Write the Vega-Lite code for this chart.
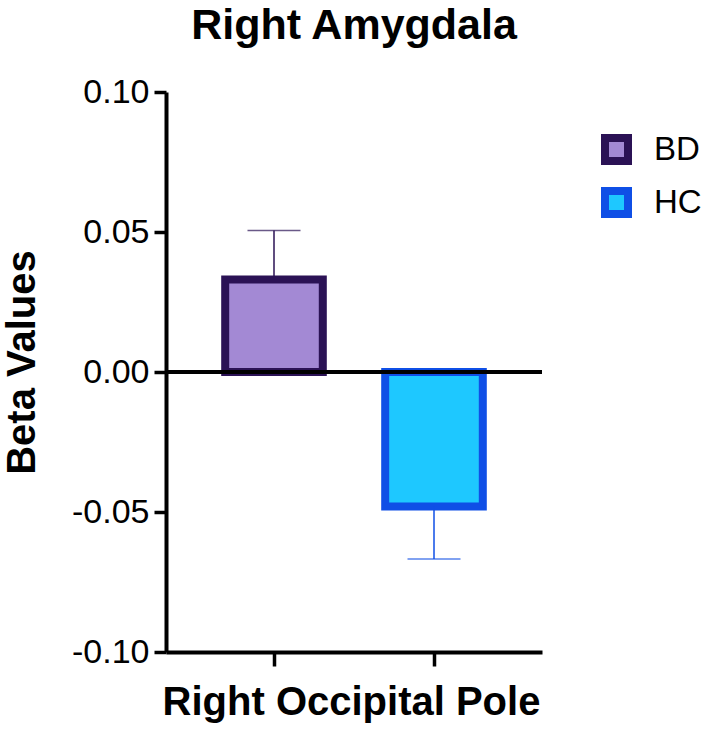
{
  "$schema": "https://vega.github.io/schema/vega-lite/v6.json",
  "autosize": "none",
  "width": 376,
  "height": 560,
  "padding": {"left": 166, "top": 92, "right": 166, "bottom": 80},
  "background": "white",
  "config": {
    "view": {"stroke": null},
    "font": "Liberation Sans"
  },
  "title": {
    "text": "Right Amygdala",
    "font": "Liberation Sans",
    "fontSize": 43,
    "fontWeight": "bold",
    "color": "black",
    "anchor": "middle",
    "offset": 27
  },
  "data": {
    "values": [
      {"group": "BD", "mean": 0.033, "err": 0.0505},
      {"group": "HC", "mean": -0.048, "err": -0.0668}
    ]
  },
  "layer": [
    {
      "mark": {"type": "bar", "strokeWidth": 8, "strokeJoin": "miter"},
      "encoding": {
        "x": {
          "field": "group",
          "type": "nominal",
          "scale": {"paddingInner": 0.39, "paddingOuter": 0.37},
          "axis": {
            "labels": false,
            "ticks": true,
            "tickSize": 14,
            "tickWidth": 3.5,
            "tickColor": "black",
            "domainColor": "black",
            "domainWidth": 4,
            "title": "Right Occipital Pole",
            "titleFont": "Liberation Sans",
            "titleFontSize": 40,
            "titleFontWeight": "bold",
            "titleColor": "black",
            "titleX": 185,
            "titleY": 50,
            "titleAlign": "center",
            "titleBaseline": "middle"
          }
        },
        "y": {
          "field": "mean",
          "type": "quantitative",
          "scale": {"domain": [-0.1, 0.1], "nice": false, "zero": false},
          "axis": {
            "values": [-0.1, -0.05, 0, 0.05, 0.1],
            "labelExpr": "replace(format(datum.value, '.2f'), '\u2212', '-')",
            "grid": false,
            "labelFont": "Liberation Sans",
            "labelFontSize": 34,
            "labelColor": "black",
            "labelPadding": 5,
            "tickSize": 12,
            "tickWidth": 3.5,
            "tickColor": "black",
            "domainColor": "black",
            "domainWidth": 4,
            "title": "Beta Values",
            "titleFont": "Liberation Sans",
            "titleFontSize": 40,
            "titleFontWeight": "bold",
            "titleColor": "black",
            "titleAngle": -90,
            "titleX": -144,
            "titleY": 270,
            "titleAlign": "center",
            "titleBaseline": "middle"
          }
        },
        "fill": {
          "field": "group",
          "type": "nominal",
          "scale": {"domain": ["BD", "HC"], "range": ["#a389d4", "#1ec8ff"]},
          "legend": {
            "title": null,
            "orient": "none",
            "legendX": 434,
            "legendY": 41,
            "symbolType": "square",
            "symbolSize": 529,
            "symbolStrokeWidth": 8,
            "labelFont": "Liberation Sans",
            "labelFontSize": 33,
            "labelColor": "black",
            "labelOffset": 21,
            "rowPadding": -2
          }
        },
        "stroke": {
          "field": "group",
          "type": "nominal",
          "scale": {"domain": ["BD", "HC"], "range": ["#2b1255", "#0f4fe6"]},
          "legend": {
            "title": null,
            "orient": "none",
            "legendX": 434,
            "legendY": 41,
            "symbolType": "square",
            "symbolSize": 529,
            "symbolStrokeWidth": 8,
            "labelFont": "Liberation Sans",
            "labelFontSize": 33,
            "labelColor": "black",
            "labelOffset": 21,
            "rowPadding": -2
          }
        }
      }
    },
    {
      "mark": {"type": "rule", "strokeWidth": 1.5},
      "encoding": {
        "x": {"field": "group", "type": "nominal"},
        "y": {"field": "mean", "type": "quantitative"},
        "y2": {"field": "err"},
        "color": {
          "field": "group",
          "type": "nominal",
          "scale": {"domain": ["BD", "HC"], "range": ["#2b1255", "#0f4fe6"]},
          "legend": null
        }
      }
    },
    {
      "mark": {"type": "tick", "size": 53, "thickness": 1.5},
      "encoding": {
        "x": {"field": "group", "type": "nominal"},
        "y": {"field": "err", "type": "quantitative"},
        "color": {
          "field": "group",
          "type": "nominal",
          "scale": {"domain": ["BD", "HC"], "range": ["#2b1255", "#0f4fe6"]},
          "legend": null
        }
      }
    },
    {
      "data": {"values": [{"zero": 0}]},
      "mark": {"type": "rule", "strokeWidth": 4, "color": "black"},
      "encoding": {
        "y": {"field": "zero", "type": "quantitative"}
      }
    }
  ]
}
